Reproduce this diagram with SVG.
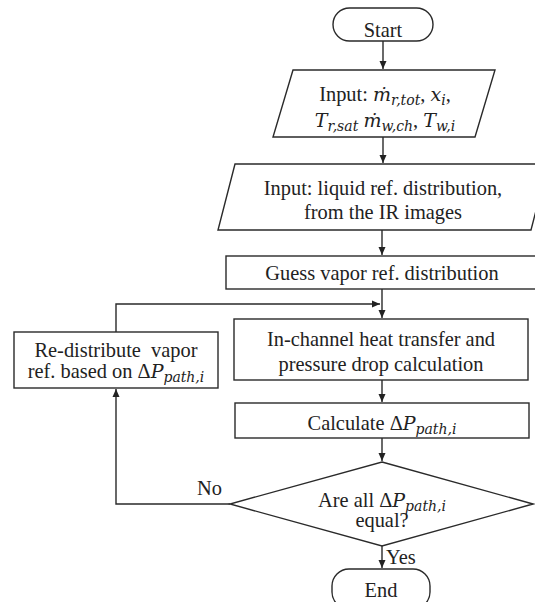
<svg xmlns="http://www.w3.org/2000/svg" width="535" height="602" viewBox="0 0 535 602">
<style>
.s{fill:#fff;stroke:#2a2a2a;stroke-width:1.4}
.t{font-family:"Liberation Serif","Times New Roman",serif;font-size:20.4px;fill:#222;text-anchor:middle}
.l{font-family:"Liberation Serif","Times New Roman",serif;font-size:20.4px;fill:#222}
.m{font-family:"DejaVu Serif",serif;font-style:italic;font-size:19px}
.b{font-family:"DejaVu Serif",serif;font-style:italic;font-size:14px}
.c{fill:none;stroke:#2a2a2a;stroke-width:1.4}
</style>
<defs>
<marker id="ah" markerUnits="userSpaceOnUse" markerWidth="10" markerHeight="10" refX="9" refY="5" orient="auto">
<path d="M1,1.5 L9,5 L1,8.5 Z" fill="#222"/>
</marker>
</defs>
<rect width="535" height="602" fill="#fff"/>
<g id="connectors">
<path class="c" d="M383,41 V69" marker-end="url(#ah)"/>
<path class="c" d="M383,137 V163" marker-end="url(#ah)"/>
<path class="c" d="M382,230 V255" marker-end="url(#ah)"/>
<path class="c" d="M382,289 V318" marker-end="url(#ah)"/>
<path class="c" d="M116,332 V304 H380" marker-end="url(#ah)"/>
<path class="c" d="M382,380 V402" marker-end="url(#ah)"/>
<path class="c" d="M382,438 V461" marker-end="url(#ah)"/>
<path class="c" d="M230,504 H116 V389" marker-end="url(#ah)"/>
<path class="c" d="M382,546 V568" marker-end="url(#ah)"/>
</g>
<g id="start">
<rect class="s" x="333" y="8" width="100" height="33" rx="16.5"/>
<text class="t" x="383" y="37">Start</text>
</g>
<g id="input1">
<polygon class="s" points="293,70 495,70 475,137 273,137"/>
<text class="t" x="385" y="101">Input: <tspan class="m">ṁ</tspan><tspan class="b" dy="4">r,tot</tspan><tspan dy="-4">, </tspan><tspan class="m">x</tspan><tspan class="b" dy="4">i</tspan><tspan dy="-4">,</tspan></text>
<text class="t" x="385" y="127"><tspan class="m">T</tspan><tspan class="b" dy="4">r,sat</tspan><tspan dy="-4"> </tspan><tspan class="m">ṁ</tspan><tspan class="b" dy="4">w,ch</tspan><tspan dy="-4">, </tspan><tspan class="m">T</tspan><tspan class="b" dy="4">w,i</tspan></text>
</g>
<g id="input2">
<polygon class="s" points="235,164 548,164 531,230 218,230"/>
<text class="t" x="383" y="195">Input: liquid ref. distribution,</text>
<text class="t" x="383" y="219">from the IR images</text>
</g>
<g id="guess">
<rect class="s" x="226" y="256" width="320" height="33"/>
<text class="t" x="382" y="280">Guess vapor ref. distribution</text>
</g>
<g id="inchannel">
<rect class="s" x="234" y="319" width="294" height="61"/>
<text class="t" x="381" y="346">In-channel heat transfer and</text>
<text class="t" x="381" y="371">pressure drop calculation</text>
</g>
<g id="redistribute">
<rect class="s" x="14" y="332" width="204" height="56"/>
<text class="t" x="116" y="357" xml:space="preserve">Re-distribute  vapor</text>
<text class="t" x="116" y="378">ref. based on Δ<tspan class="m">P</tspan><tspan class="b" dy="4">path,i</tspan></text>
</g>
<g id="calculate">
<rect class="s" x="235" y="403" width="294" height="35"/>
<text class="t" x="382" y="430">Calculate Δ<tspan class="m">P</tspan><tspan class="b" dy="4">path,i</tspan></text>
</g>
<g id="decision">
<polygon class="s" points="382,462 533,504 382,546 230,504"/>
<text class="t" x="382" y="507">Are all Δ<tspan class="m">P</tspan><tspan class="b" dy="4">path,i</tspan></text>
<text class="t" x="382" y="527">equal?</text>
</g>
<g id="labels">
<text class="l" x="197" y="495">No</text>
<text class="l" x="386" y="564">Yes</text>
</g>
<g id="end">
<rect class="s" x="332" y="569" width="98" height="40" rx="17"/>
<text class="t" x="381" y="597">End</text>
</g>
</svg>
